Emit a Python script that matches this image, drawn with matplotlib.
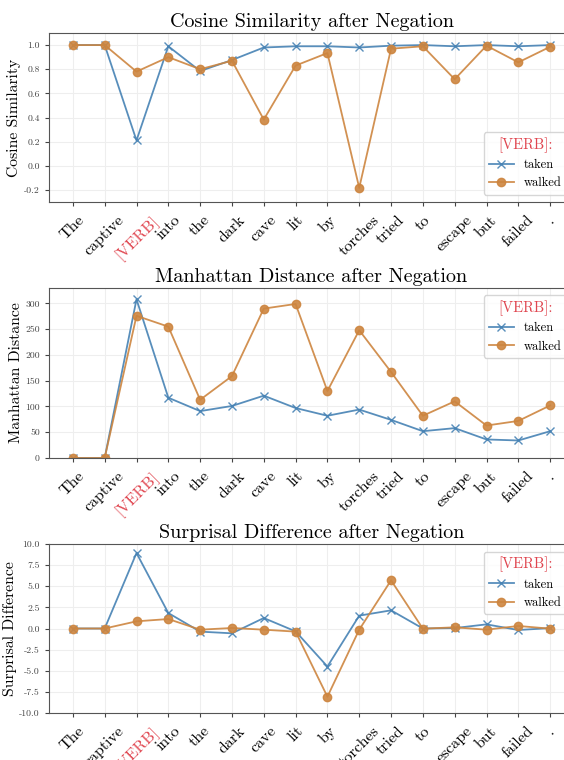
import matplotlib
matplotlib.use("Agg")
import matplotlib.pyplot as plt

plt.rcParams['font.family'] = 'serif'
plt.rcParams['font.serif'] = ['cmr10', 'DejaVu Serif']
plt.rcParams['axes.unicode_minus'] = False
plt.rcParams['mathtext.fontset'] = 'cm'

tokens = ["The", "captive", "[VERB]", "into", "the", "dark", "cave", "lit", "by",
          "torches", "tried", "to", "escape", "but", "failed", "."]

cos_taken = [1.0, 1.0, 0.21, 0.99, 0.785, 0.876, 0.98, 0.99, 0.99, 0.98,
             0.995, 1.0, 0.99, 1.0, 0.99, 1.0]
cos_walked = [1.0, 1.0, 0.78, 0.90, 0.80, 0.87, 0.383, 0.83, 0.934, -0.183,
              0.97, 0.99, 0.717, 0.995, 0.857, 0.986]

man_taken = [0, 0, 308, 117, 91, 101, 121, 97, 82, 94, 74, 52, 58, 36, 34, 52]
man_walked = [0, 0, 276, 255, 113, 159, 290, 299, 130, 248, 167, 82, 110, 63, 72, 102]

sur_taken = [0.0, 0.0, 8.93, 1.83, -0.37, -0.57, 1.24, -0.34, -4.5, 1.52,
             2.15, 0.0, 0.05, 0.49, -0.18, 0.05]
sur_walked = [0.0, 0.0, 0.85, 1.12, -0.14, 0.06, -0.14, -0.37, -8.07, -0.14,
              5.7, -0.02, 0.14, -0.14, 0.3, -0.02]

BLUE = '#4682b4'
ORANGE = '#cd853f'
RED = '#e0454f'

W, H = 564, 760
fig = plt.figure(figsize=(W / 100, H / 100), dpi=100)


def make_axes(top, bottom):
    left, right = 49, 574
    return fig.add_axes([left / W, 1 - bottom / H, (right - left) / W, (bottom - top) / H])


def draw(ax, taken, walked, title, ylabel, ylim, yticks, legend_loc):
    x = list(range(len(tokens)))
    ax.plot(x, taken, color=BLUE, marker='x', markersize=6, linewidth=1.3,
            alpha=0.9, label='taken')
    ax.plot(x, walked, color=ORANGE, marker='o', markersize=6, linewidth=1.3,
            alpha=0.9, label='walked')
    ax.set_xlim(-0.75, 15.75)
    ax.set_ylim(*ylim)
    ax.set_yticks(yticks)
    ax.set_xticks(x)
    ax.set_xticklabels(tokens, rotation=45, fontsize=11.5)
    ax.tick_params(axis='y', labelsize=7, colors='#444444', length=3)
    ax.tick_params(axis='x', colors='#444444', length=3, pad=5)
    for lbl in ax.get_xticklabels():
        lbl.set_color(RED if lbl.get_text() == "[VERB]" else 'black')
    ax.grid(True, color='#eeeeee', linewidth=0.8)
    for s in ax.spines.values():
        s.set_color('#555555')
    ax.set_title(title, fontsize=14.5, pad=4)
    ax.set_ylabel(ylabel, fontsize=11.3, labelpad=2)
    leg = ax.legend(loc=legend_loc, fontsize=9, title='[VERB]:',
                    title_fontsize=10.5, borderaxespad=0.6)
    leg.get_title().set_color(RED)


ax1 = make_axes(33, 202)
draw(ax1, cos_taken, cos_walked, 'Cosine Similarity after Negation',
     'Cosine Similarity', (-0.3, 1.1), [-0.2, 0.0, 0.2, 0.4, 0.6, 0.8, 1.0], 'lower right')

ax2 = make_axes(288, 458)
draw(ax2, man_taken, man_walked, 'Manhattan Distance after Negation',
     'Manhattan Distance', (0, 330), [0, 50, 100, 150, 200, 250, 300], 'upper right')

ax3 = make_axes(544, 713)
draw(ax3, sur_taken, sur_walked, 'Surprisal Difference after Negation',
     'Surprisal Difference', (-10, 10), [-10, -7.5, -5, -2.5, 0, 2.5, 5, 7.5, 10], 'upper right')

fig.savefig('out.png', dpi=100)
